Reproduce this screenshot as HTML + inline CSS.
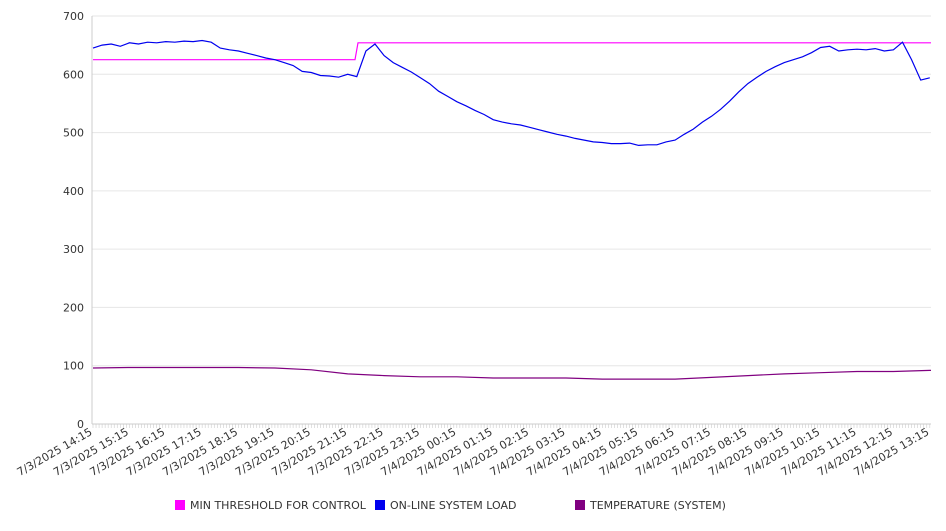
<!DOCTYPE html>
<html><head><meta charset="utf-8"><style>
body{margin:0;background:#fff;font-family:"Liberation Sans","DejaVu Sans",sans-serif;}
svg text{font-family:"DejaVu Sans","Liberation Sans",sans-serif;font-size:11px;fill:#333;}
</style></head><body>
<svg id="chart" width="946" height="526"></svg>
<script>
const hourLabels=["7/3/2025 14:15","7/3/2025 15:15","7/3/2025 16:15","7/3/2025 17:15","7/3/2025 18:15","7/3/2025 19:15","7/3/2025 20:15","7/3/2025 21:15","7/3/2025 22:15","7/3/2025 23:15","7/4/2025 00:15","7/4/2025 01:15","7/4/2025 02:15","7/4/2025 03:15","7/4/2025 04:15","7/4/2025 05:15","7/4/2025 06:15","7/4/2025 07:15","7/4/2025 08:15","7/4/2025 09:15","7/4/2025 10:15","7/4/2025 11:15","7/4/2025 12:15","7/4/2025 13:15"];
const yTicks=[0,100,200,300,400,500,600,700];
// on-line load, every 15 min from 14:15
const loadValues=[645,650,652,648,654,652,655,654,656,655,657,656,658,655,645,642,640,636,632,628,625,620,615,605,603,598,597,595,600,596,640,652,632,620,612,604,594,584,571,562,553,546,538,531,522,518,515,513,509,505,501,497,494,490,487,484,483,481,481,482,478,479,479,484,487,497,506,518,528,540,554,570,584,595,605,613,620,625,630,637,646,648,640,642,643,642,644,640,642,655,625,590,594];
// temperature hourly
const tempValues=[96,97,97,97,97,96,93,86,83,81,81,79,79,79,77,77,77,80,83,86,88,90,90,92,92];
// threshold steps: minutes, value
const threshTimes=[0,432,437,1382];
const threshValues=[625,625,654,654];

const W=946,L=92,R=931,T=16,B=424,maxMin=1382;
const xs=m=>L+1+m/maxMin*(R-L-1);
const ys=v=>B-v/700*(B-T);
const svg=document.getElementById('chart');
const NS="http://www.w3.org/2000/svg";
function mk(tag,attrs,parent){const e=document.createElementNS(NS,tag);for(const k in attrs)e.setAttribute(k,attrs[k]);(parent||svg).appendChild(e);return e;}
yTicks.forEach(v=>{
  const g=mk('line',{x1:L,x2:R,y1:ys(v),y2:ys(v),stroke:v===0?'#ccc':'#e6e6e6','stroke-width':1});
  
  
  const t=mk('text',{x:L-8,y:ys(v)+4,'text-anchor':'end'});t.textContent=v;
  
  
});
const ax=mk('line',{x1:L,x2:L,y1:T,y2:B,stroke:'#ccc'});


for(let m=0;m<=maxMin;m+=5){const x=xs(m);const tk=mk('line',{x1:x,x2:x,y1:B,y2:B+4,stroke:'#ccc','stroke-width':0.6});
  
  }
hourLabels.forEach((s,i)=>{const x=xs(i*60);
  const t=mk('text',{x:x,y:B+10,'text-anchor':'end',transform:`rotate(-30 ${x} ${B+10})`});t.textContent=s;
  
  });
function path(pts,color,name){
  const p=mk('path',{d:pts.map((q,i)=>(i?'L':'M')+q[0].toFixed(1)+','+q[1].toFixed(1)).join(''),fill:'none',stroke:color,'stroke-width':1.2});
  
  
}
path(threshTimes.map((m,i)=>[xs(m),ys(threshValues[i])]),'#ff00ff','min-threshold-line');
path(loadValues.map((v,i)=>[xs(i*15),ys(v)]),'#0000ee','online-load-line');
path(tempValues.map((v,i)=>[xs(Math.min(i*60,1382)),ys(v)]),'#800080','temperature-line');
const legend=[["MIN THRESHOLD FOR CONTROL","#ff00ff",175],["ON-LINE SYSTEM LOAD","#0000ee",375],["TEMPERATURE (SYSTEM)","#800080",575]];
legend.forEach(([n,c,x])=>{
  const g=mk('g',{});
  
  
  mk('rect',{x:x,y:500,width:10,height:10,fill:c},g);
  const t=mk('text',{x:x+15,y:509},g);t.textContent=n;
});
</script>
</body></html>
